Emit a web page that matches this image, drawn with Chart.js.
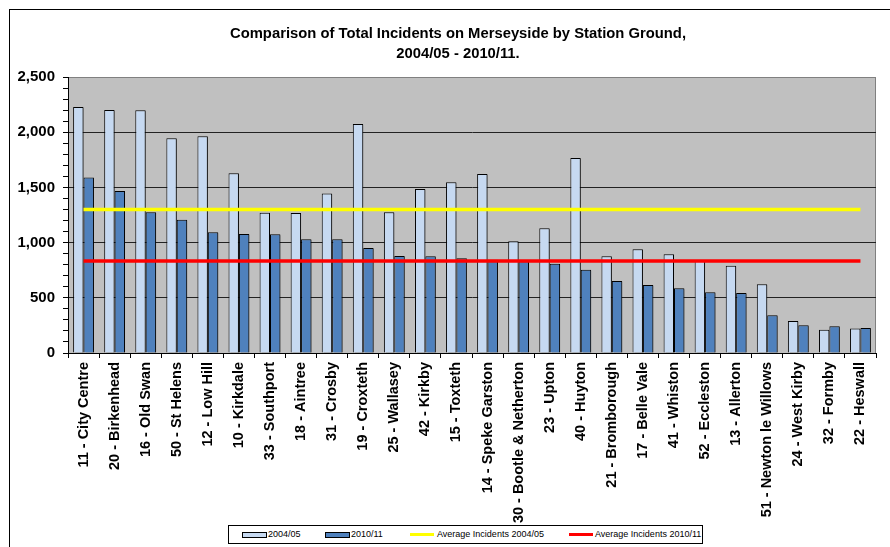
<!DOCTYPE html>
<html>
<head>
<meta charset="utf-8">
<script src="https://cdn.jsdelivr.net/npm/chart.js@4.4.1/dist/chart.umd.min.js"></script>
<style>
    html, body { margin: 0; padding: 0; background: #fff; overflow: hidden; }
    #wrap { position: relative; width: 890px; height: 547px; font-family: "Liberation Sans", Arial, sans-serif; }
    #frame { position: absolute; left: 9px; top: 9px; width: 900px; height: 600px; border-left: 1px solid #000; border-top: 1px solid #000; }
    #chart { position: absolute; left: 0; top: 0; }
    #title { position: absolute; left: 158px; top: 23px; width: 600px; text-align: center; font-weight: bold; font-size: 14.8px; line-height: 20px; color: #000; }
    #legend { position: absolute; left: 228px; top: 525px; width: 475px; height: 19px; box-sizing: border-box; border: 1px solid #000; background: #fff; font-size: 9px; color: #000; }
    #legend .sw { position: absolute; box-sizing: border-box; }
    #legend .txt { position: absolute; top: 0; line-height: 17px; white-space: nowrap; }
</style>
</head>
<body>
<div id="wrap">
    <div id="frame"></div>
    <canvas id="chart" width="890" height="547"></canvas>
    <div id="title">Comparison of Total Incidents on Merseyside by Station Ground,<br>2004/05 - 2010/11.</div>
    <div id="legend"></div>
</div>
<script>
// Station grounds, in the order shown
var stations = [
    '11 - City Centre', '20 - Birkenhead', '16 - Old Swan', '50 - St Helens', '12 - Low Hill',
    '10 - Kirkdale', '33 - Southport', '18 - Aintree', '31 - Crosby', '19 - Croxteth',
    '25 - Wallasey', '42 - Kirkby', '15 - Toxteth', '14 - Speke Garston', '30 - Bootle & Netherton',
    '23 - Upton', '40 - Huyton', '21 - Bromborough', '17 - Belle Vale', '41 - Whiston',
    '52 - Eccleston', '13 - Allerton', '51 - Newton le Willows', '24 - West Kirby', '32 - Formby',
    '22 - Heswall'
];

// Total incidents per year
var incidents2004 = [
    2229, 2202, 2199, 1945, 1963, 1628, 1271, 1268, 1444, 2075,
    1274, 1486, 1546, 1622, 1012, 1129, 1767, 876, 939, 894,
    840, 791, 622, 290, 211, 223
];
var incidents2010 = [
    1589, 1468, 1274, 1208, 1093, 1078, 1075, 1030, 1030, 951,
    879, 876, 858, 845, 832, 809, 755, 652, 616, 586,
    550, 544, 341, 251, 242, 227
];

// Averages across all stations
var avg2004 = 1299;
var avg2010 = 834;

// Y axis ticks
var yMax = 2500;
var yMajorStep = 500;
var yMinorStep = 100;

var colours = {
    light: '#c6d9f1',
    dark: '#4f81bd',
    avg2004: '#ffff00',
    avg2010: '#ff0000',
    plot: '#c0c0c0'
};

var fontFamily = '"Liberation Sans", Arial, sans-serif';

// Grey plot area with a thin border
var plotBackground = {
    id: 'plotBackground',
    beforeDraw: function(chart) {
        var a = chart.chartArea;
        var ctx = chart.ctx;
        ctx.save();
        ctx.fillStyle = colours.plot;
        ctx.fillRect(a.left, a.top, a.right - a.left, a.bottom - a.top);
        ctx.strokeStyle = '#808080';
        ctx.lineWidth = 1;
        ctx.strokeRect(a.left + 0.5, a.top + 0.5, a.right - a.left - 1, a.bottom - a.top);
        ctx.restore();
    }
};

// Small drop shadow behind the bars
var barShadow = {
    id: 'barShadow',
    beforeDatasetDraw: function(chart, args) {
        if (args.meta.type !== 'bar') return;
        var ctx = chart.ctx;
        ctx.save();
        ctx.shadowColor = 'rgba(0,0,0,0.35)';
        ctx.shadowOffsetX = 2;
        ctx.shadowOffsetY = 1;
        ctx.shadowBlur = 0;
    },
    afterDatasetDraw: function(chart, args) {
        if (args.meta.type !== 'bar') return;
        chart.ctx.restore();
    }
};

new Chart(document.getElementById('chart'), {
    type: 'bar',
    data: {
        labels: stations,
        datasets: [{
            label: '2004/05',
            data: incidents2004,
            backgroundColor: colours.light,
            borderColor: '#000',
            borderWidth: 1,
            order: 2
        }, {
            label: '2010/11',
            data: incidents2010,
            backgroundColor: colours.dark,
            borderColor: '#000',
            borderWidth: 1,
            order: 2
        }, {
            type: 'line',
            label: 'Average Incidents 2004/05',
            data: stations.map(function() { return avg2004; }),
            borderColor: colours.avg2004,
            borderWidth: 3.5,
            pointRadius: 0,
            fill: false,
            order: 1
        }, {
            type: 'line',
            label: 'Average Incidents 2010/11',
            data: stations.map(function() { return avg2010; }),
            borderColor: colours.avg2010,
            borderWidth: 3.5,
            pointRadius: 0,
            fill: false,
            order: 1
        }]
    },
    options: {
        responsive: false,
        animation: false,
        layout: {
            padding: { top: 77, right: 14, bottom: 0, left: 0 }
        },
        datasets: {
            bar: { categoryPercentage: 0.67, barPercentage: 1 }
        },
        plugins: {
            legend: { display: false },
            title: { display: false },
            tooltip: { enabled: false }
        },
        scales: {
            x: {
                afterFit: function(scale) { scale.height = 194; },
                ticks: {
                    autoSkip: false,
                    minRotation: 90,
                    maxRotation: 90,
                    padding: 4,
                    color: '#000',
                    font: { family: fontFamily, size: 14.5, weight: 'bold' }
                },
                grid: {
                    offset: true,
                    drawOnChartArea: false,
                    drawTicks: true,
                    tickLength: 5,
                    tickColor: '#000'
                },
                border: { color: '#000', width: 1 }
            },
            y: {
                min: 0,
                max: yMax,
                afterFit: function(scale) { scale.width = 68; },
                ticks: {
                    stepSize: yMinorStep,
                    autoSkip: false,
                    padding: 8,
                    color: '#000',
                    font: { family: fontFamily, size: 15, weight: 'bold' },
                    callback: function(value) {
                        return value % yMajorStep === 0 ? value.toLocaleString('en-US') : '';
                    }
                },
                grid: {
                    color: function(ctx) {
                        if (!ctx.tick || ctx.tick.value % yMajorStep !== 0) return 'rgba(0,0,0,0)';
                        return ctx.tick.value === yMax ? '#808080' : '#222';
                    },
                    tickColor: '#000',
                    tickLength: 5,
                    drawTicks: true
                },
                border: { color: '#000', width: 1 }
            }
        }
    },
    plugins: [plotBackground, barShadow]
});

// Legend box at the bottom, drawn over the axis labels
var legendItems = [
    { text: '2004/05', kind: 'bar', colour: colours.light, x: 13, tx: 39 },
    { text: '2010/11', kind: 'bar', colour: colours.dark, x: 96, tx: 122 },
    { text: 'Average Incidents 2004/05', kind: 'line', colour: colours.avg2004, x: 181, tx: 208 },
    { text: 'Average Incidents 2010/11', kind: 'line', colour: colours.avg2010, x: 340, tx: 366 }
];
var legend = document.getElementById('legend');
legendItems.forEach(function(item) {
    var sw = document.createElement('div');
    sw.className = 'sw';
    sw.style.left = item.x + 'px';
    sw.style.background = item.colour;
    if (item.kind === 'bar') {
        sw.style.top = '6px';
        sw.style.width = '25px';
        sw.style.height = '6px';
        sw.style.border = '1px solid #000';
    } else {
        sw.style.top = '7px';
        sw.style.width = '24px';
        sw.style.height = '3px';
    }
    legend.appendChild(sw);
    var t = document.createElement('span');
    t.className = 'txt';
    t.style.left = item.tx + 'px';
    t.textContent = item.text;
    legend.appendChild(t);
});
</script>
</body>
</html>
